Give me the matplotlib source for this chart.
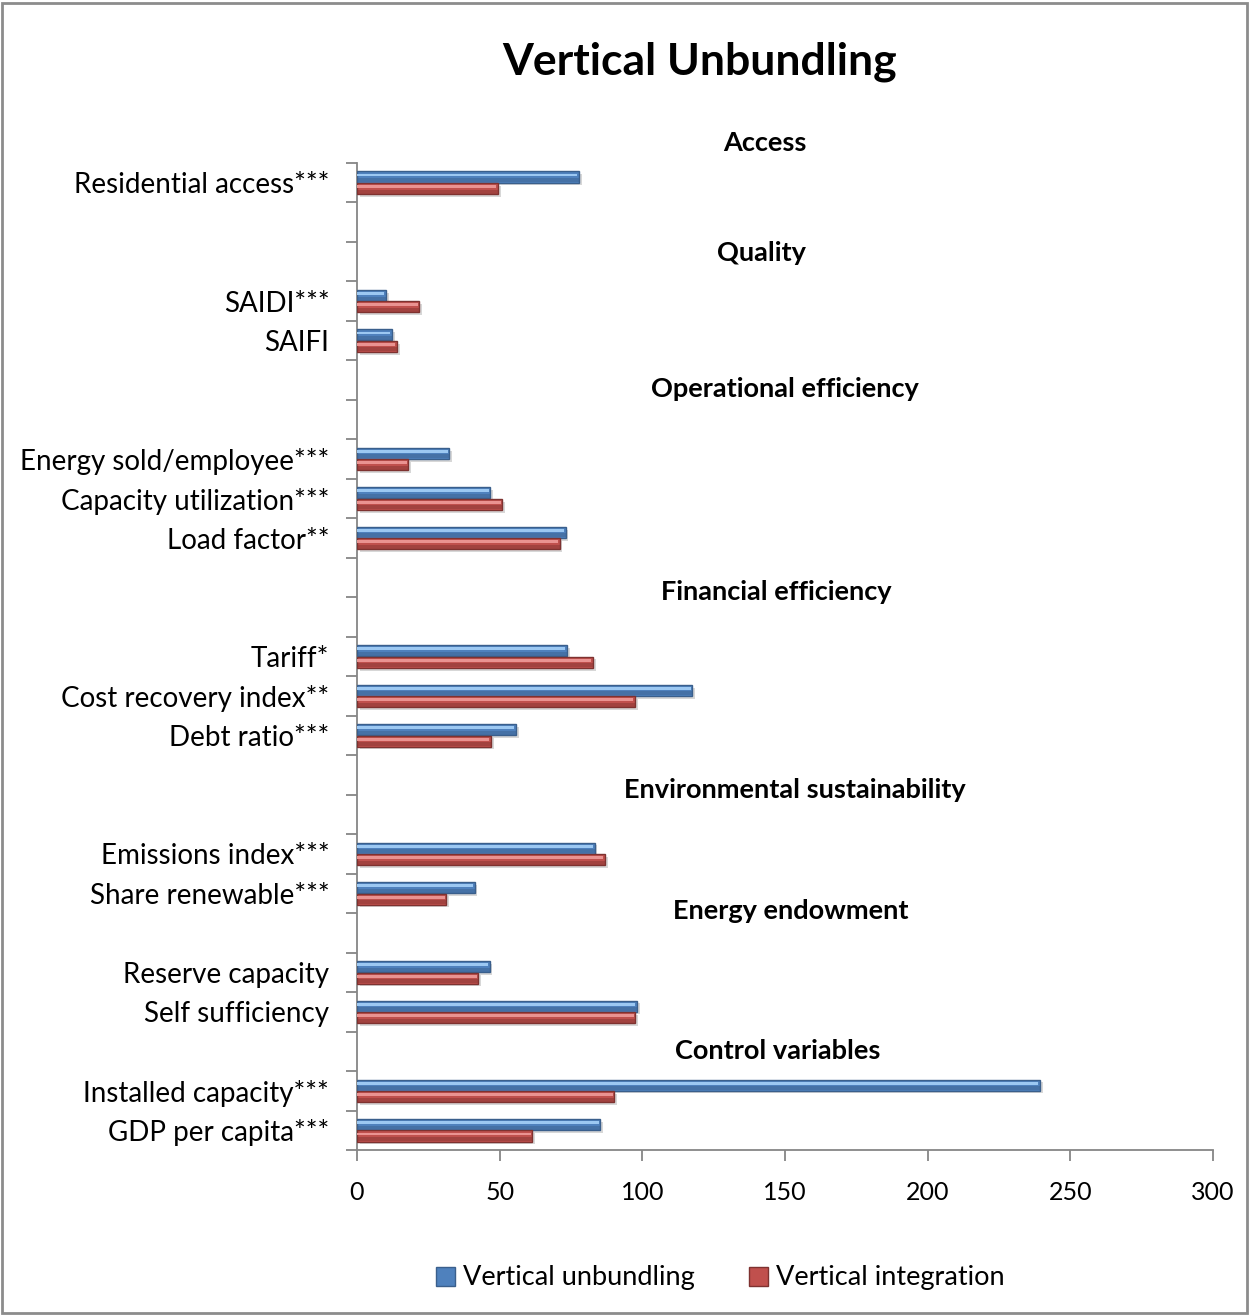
import matplotlib
matplotlib.use("Agg")
import matplotlib.pyplot as plt
import matplotlib.patheffects as pe
from matplotlib.patches import Rectangle, Patch
import numpy as np

plt.rcParams['font.family'] = ['Lato', 'DejaVu Sans']

# Indicator rows (blank strings are spacer rows that hold the group headings)
categories = ["Residential access***", "", "", "SAIDI***", "SAIFI", "", "",
              "Energy sold/employee***", "Capacity utilization***", "Load factor**",
              "", "", "Tariff*", "Cost recovery index**", "Debt ratio***", "", "",
              "Emissions index***", "Share renewable***", "", "Reserve capacity",
              "Self sufficiency", "", "Installed capacity***", "GDP per capita***"]

unbundling = [77.8, None, None, 10.1, 12.2, None, None,
              32.4, 46.7, 73.1, None, None, 73.6, 117.5, 55.7, None, None,
              83.3, 41.2, None, 46.5, 98.1, None, 239.4, 85.3]

integration = [49.4, None, None, 21.9, 14.0, None, None,
               18.0, 50.9, 71.0, None, None, 82.7, 97.5, 47.0, None, None,
               86.9, 31.3, None, 42.5, 97.6, None, 90.2, 61.5]

headings = ["Access", "Quality", "Operational efficiency", "Financial efficiency",
            "Environmental sustainability", "Energy endowment", "Control variables"]
heading_x = [142.8, 141.7, 149.8, 147.0, 153.3, 151.9, 147.3]
heading_y = [-1.0, 1.78, 5.22, 10.36, 15.37, 18.44, 22.0]

series_names = ["Vertical unbundling", "Vertical integration"]
xticks = [0, 50, 100, 150, 200, 250, 300]

W, H = 1249, 1316
fig = plt.figure(figsize=(W / 100, H / 100), dpi=100)
fig.patches.append(Rectangle((2 / W, 3 / H), 1 - 4 / W, 1 - 6 / H, transform=fig.transFigure,
                             fill=False, edgecolor="#8c8c8c", linewidth=2))

ax = fig.add_axes([357 / W, 1 - 1150 / H, (1213 - 357) / W, (1150 - 163) / H])

n = len(categories)
pos = np.arange(n)
bh = 0.28

styles = [
    dict(main="#4f81bd", light="#9cc8f2", dark="#3a5f8c", off=-0.145),
    dict(main="#c0504d", light="#ea9391", dark="#7e3230", off=0.145),
]

shadow = [pe.SimplePatchShadow(offset=(2, -2), shadow_rgbFace="#b0b0b0", alpha=0.5), pe.Normal()]

for vals, st in zip([unbundling, integration], styles):
    v = np.array([np.nan if x is None else x for x in vals], dtype=float)
    mask = ~np.isnan(v)
    y = pos[mask] + st["off"]
    bars = ax.barh(y, v[mask], height=bh, color=st["main"], edgecolor=st["dark"],
                   linewidth=1.0, zorder=3)
    for b in bars:
        b.set_path_effects(shadow)
    # bevel: dark lower band and bright upper highlight
    ax.barh(y + bh * 0.28, v[mask], height=bh * 0.36, color=st["dark"], alpha=0.45,
            linewidth=0, zorder=4)
    ax.barh(y - bh * 0.18, v[mask] - 0.6, height=bh * 0.26, color=st["light"],
            linewidth=0, zorder=4)

ax.set_ylim(n - 0.5, -0.5)
ax.set_xlim(0, 300)

ax.set_yticks(np.arange(n + 1) - 0.5)
ax.set_yticklabels([])
ax.set_yticks(pos, minor=True)
ax.set_yticklabels(categories, minor=True)
ax.tick_params(axis="y", which="minor", length=0, pad=20, labelsize=20)
ax.tick_params(axis="y", which="major", length=8, width=1.3, color="#868686", direction="out")

ax.set_xticks(xticks)
ax.set_xticklabels([str(t) for t in xticks])
ax.tick_params(axis="x", length=8, width=1.3, color="#868686", direction="out", pad=14,
               labelsize=18)

for s in ["top", "right"]:
    ax.spines[s].set_visible(False)
for s in ["left", "bottom"]:
    ax.spines[s].set_color("#868686")
    ax.spines[s].set_linewidth(1.3)

for t, hx, hy in zip(headings, heading_x, heading_y):
    ax.text(hx, hy, t, ha="center", va="center", fontsize=19.5, fontweight="bold",
            color="black", clip_on=False)

fig.text(700 / W, 1 - 62 / H, "Vertical Unbundling", ha="center", va="center",
         fontsize=32, fontweight="bold")

handles = [Patch(facecolor=st["main"], edgecolor=st["dark"]) for st in styles]
fig.legend(handles, series_names, loc="center", bbox_to_anchor=(720 / W, 1 - 1278 / H),
           ncol=2, frameon=False, fontsize=19.5, handlelength=0.7, handleheight=0.7,
           handletextpad=0.3, columnspacing=2.0)

fig.savefig("out.png", dpi=100, facecolor="white")
